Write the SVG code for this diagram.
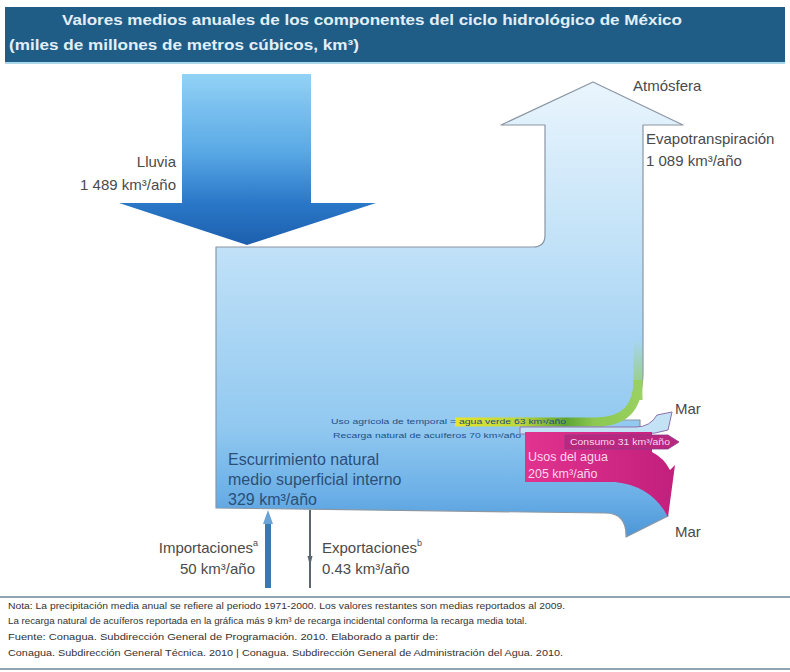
<svg xmlns="http://www.w3.org/2000/svg" width="790" height="672" viewBox="0 0 790 672">
<defs>
<style>
.lbl{font-family:"Liberation Sans",Arial,sans-serif;font-size:15px;fill:#4a4a4a}
.big{font-family:"Liberation Sans",Arial,sans-serif;font-size:16px;fill:#2c4f78}
.small{font-family:"Liberation Sans",Arial,sans-serif;font-size:7px;fill:#1f4f86}
.note{font-family:"Liberation Sans",Arial,sans-serif;font-size:9px;fill:#333}
.title{font-family:"Liberation Sans",Arial,sans-serif;font-size:15px;font-weight:bold;fill:#e2eff8}
.pink{font-family:"Liberation Sans",Arial,sans-serif;fill:#fad6ec}
</style>
<linearGradient id="gBody" x1="0" y1="82" x2="0" y2="540" gradientUnits="userSpaceOnUse">
<stop offset="0" stop-color="#eaf5fd"/>
<stop offset="0.4" stop-color="#bcdff7"/>
<stop offset="0.75" stop-color="#92c9f0"/>
<stop offset="0.9" stop-color="#6cb0e7"/>
<stop offset="1" stop-color="#4a95d6"/>
</linearGradient>
<linearGradient id="gRain" x1="0" y1="74" x2="0" y2="245" gradientUnits="userSpaceOnUse">
<stop offset="0" stop-color="#92d2f6"/>
<stop offset="0.45" stop-color="#5aa9e6"/>
<stop offset="0.75" stop-color="#2b78c8"/>
<stop offset="1" stop-color="#1c5fae"/>
</linearGradient>
<linearGradient id="gGreen" x1="455" y1="0" x2="640" y2="0" gradientUnits="userSpaceOnUse">
<stop offset="0" stop-color="#e6e52a"/>
<stop offset="0.35" stop-color="#bcd63a"/>
<stop offset="0.6" stop-color="#5fa434"/>
<stop offset="0.75" stop-color="#8cc852"/>
<stop offset="1" stop-color="#9ad060"/>
</linearGradient>
<linearGradient id="gGreenV" x1="0" y1="340" x2="0" y2="400" gradientUnits="userSpaceOnUse">
<stop offset="0" stop-color="#9ad060" stop-opacity="0"/>
<stop offset="1" stop-color="#9ad060"/>
</linearGradient>
<linearGradient id="gMag" x1="525" y1="0" x2="675" y2="0" gradientUnits="userSpaceOnUse">
<stop offset="0" stop-color="#e2328f"/>
<stop offset="1" stop-color="#c21f7c"/>
</linearGradient>
</defs>

<rect width="790" height="672" fill="#ffffff"/>

<g id="title">
<rect x="5" y="7" width="780" height="55" fill="#1f5d87"/>
<rect x="5" y="62" width="780" height="2" fill="#a8d8ea"/>
<text class="title" x="62" y="25" textLength="620" lengthAdjust="spacingAndGlyphs">Valores medios anuales de los componentes del ciclo hidrológico de México</text>
<text class="title" x="9" y="50" textLength="350" lengthAdjust="spacingAndGlyphs">(miles de millones de metros cúbicos, km³)</text>
</g>

<g id="cuerpo">
<path d="M216,247 H533 Q545,247 545,235 V125 H501 L593,82 L683,125 H643 V372 Q643,420 598,420 H640 V482 Q655,490 668,516 L626,537 Q627,513 605,513 L216,508 Z" fill="url(#gBody)" stroke="#8a96a2" stroke-width="1.2" stroke-linejoin="round"/>
<text class="lbl" x="633" y="91">Atmósfera</text>
<text class="lbl" x="646" y="144">Evapotranspiración</text>
<text class="lbl" x="646" y="166">1 089 km³/año</text>
<text class="big" x="228" y="465">Escurrimiento natural</text>
<text class="big" x="228" y="485">medio superficial interno</text>
<text class="big" x="228" y="505">329 km³/año</text>
</g>

<g id="lluvia">
<path d="M182,74 H311 V203 H376 L247,245 L119,203 H182 Z" fill="url(#gRain)"/>
<text class="lbl" x="176" y="167" text-anchor="end">Lluvia</text>
<text class="lbl" x="176" y="190" text-anchor="end">1 489 km³/año</text>
</g>

<g id="agua-verde">
<path d="M455,422 H596 Q638,422 638,380" fill="none" stroke="url(#gGreen)" stroke-width="9"/>
<path d="M638,400 V335" fill="none" stroke="url(#gGreenV)" stroke-width="9"/>
<text class="small" x="331" y="424" textLength="235" lengthAdjust="spacingAndGlyphs">Uso agrícola de temporal = agua verde 63 km³/año</text>
</g>

<g id="recarga">
<path d="M520,427 H636 Q650,427 657,415 L672,412 L668,430 Q656,434 640,434 H520 Z" fill="#c4e2f6" stroke="#8d70ad" stroke-width="1"/>
<text class="small" x="333" y="438" textLength="188" lengthAdjust="spacingAndGlyphs">Recarga natural de acuíferos 70 km³/año</text>
<text class="lbl" x="675" y="414">Mar</text>
</g>

<g id="usos">
<path d="M525,432 H652 V452 Q664,458 670,470 L675,465 L668,517 Q652,486 615,482 H525 Z" fill="url(#gMag)"/>
<path d="M565,435 H668 L679,442 L668,449 H565 Z" fill="#b8287e" stroke="#8e3a8a" stroke-width="0.8"/>
<text class="pink" x="570" y="445" font-size="8.5" textLength="100" lengthAdjust="spacingAndGlyphs">Consumo 31 km³/año</text>
<text class="pink" x="528" y="461" font-size="12.5">Usos del agua</text>
<text class="pink" x="528" y="478" font-size="12.5">205 km³/año</text>
</g>

<g id="mar">
<text class="lbl" x="675" y="537">Mar</text>
</g>

<g id="connectors">
<line x1="268" y1="588" x2="268" y2="522" stroke="#3a78b2" stroke-width="6"/>
<path d="M263,524 L268,510 L273,524 Z" fill="#6aa3d6"/>
<line x1="310" y1="510" x2="310" y2="588" stroke="#5b6671" stroke-width="2"/>
<path d="M307.5,556 L310,566 L312.5,556 Z" fill="#5b6671"/>
</g>

<g id="comercio">
<text class="lbl" x="258" y="553" text-anchor="end">Importaciones<tspan font-size="9" dy="-7">a</tspan></text>
<text class="lbl" x="255" y="574" text-anchor="end">50 km³/año</text>
<text class="lbl" x="322" y="553">Exportaciones<tspan font-size="9" dy="-7">b</tspan></text>
<text class="lbl" x="322" y="574">0.43 km³/año</text>
</g>

<g id="notas">
<line x1="0" y1="597" x2="790" y2="597" stroke="#8fa3b3" stroke-width="2"/>
<text class="note" x="8" y="609" textLength="557" lengthAdjust="spacingAndGlyphs">Nota: La precipitación media anual se refiere al periodo 1971-2000. Los valores restantes son medias reportados al 2009.</text>
<text class="note" x="8" y="624" textLength="519" lengthAdjust="spacingAndGlyphs">La recarga natural de acuíferos reportada en la gráfica más 9 km³ de recarga incidental conforma la recarga media total.</text>
<text class="note" x="8" y="640" textLength="430" lengthAdjust="spacingAndGlyphs">Fuente: Conagua. Subdirección General de Programación. 2010. Elaborado a partir de:</text>
<text class="note" x="8" y="656" textLength="555" lengthAdjust="spacingAndGlyphs">Conagua. Subdirección General Técnica. 2010 | Conagua. Subdirección General de Administración del Agua. 2010.</text>
<line x1="0" y1="669" x2="790" y2="669" stroke="#8fa3b3" stroke-width="2"/>
</g>
</svg>
